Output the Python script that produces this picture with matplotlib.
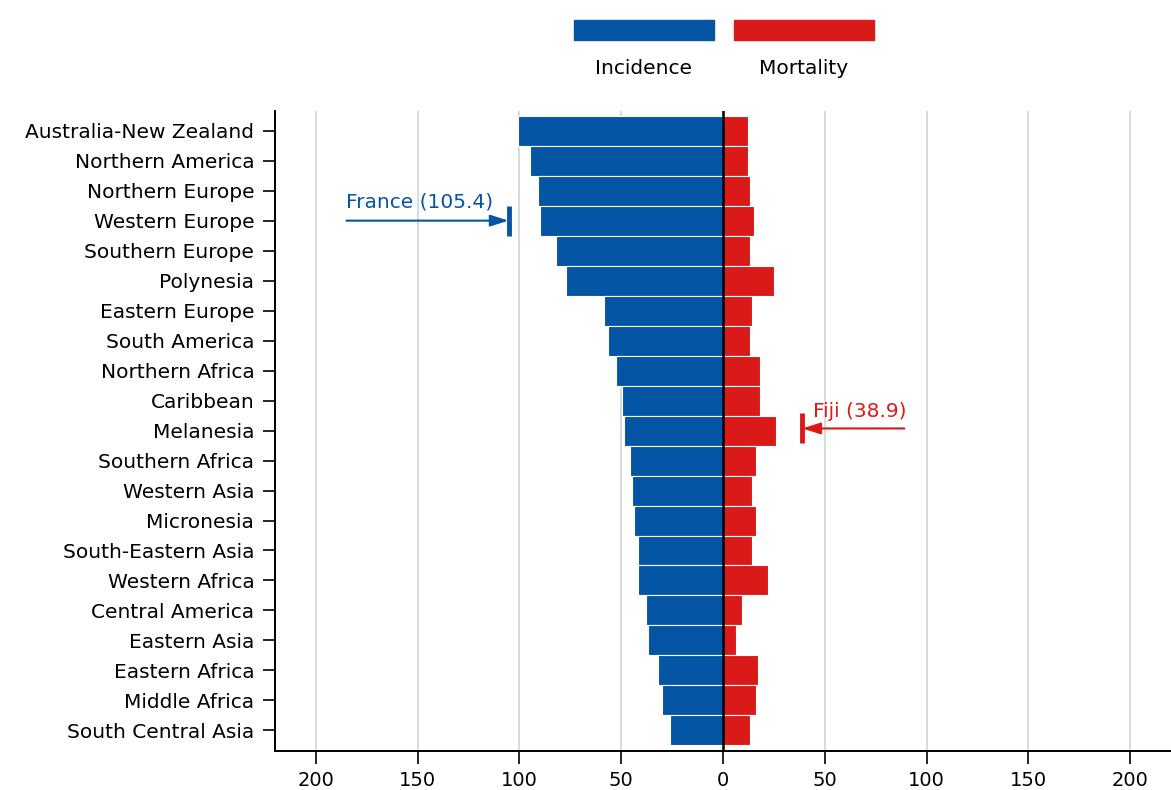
"""
Incidence vs mortality by world region, butterfly bar chart.
"""
import matplotlib.pyplot as plt
from matplotlib.patches import Rectangle
from matplotlib.ticker import FuncFormatter

plt.rcParams["font.family"] = ["DejaVu Sans"]

REGIONS = [
    "Australia-New Zealand", "Northern America", "Northern Europe",
    "Western Europe", "Southern Europe", "Polynesia", "Eastern Europe",
    "South America", "Northern Africa", "Caribbean", "Melanesia",
    "Southern Africa", "Western Asia", "Micronesia", "South-Eastern Asia",
    "Western Africa", "Central America", "Eastern Asia", "Eastern Africa",
    "Middle Africa", "South Central Asia",
]
INCIDENCE = [100.5, 94.6, 90.7, 89.7, 81.9, 77.0, 58.3, 56.4, 52.5, 49.5,
             48.5, 45.6, 44.6, 43.6, 41.7, 41.7, 37.7, 36.8, 31.9, 29.9, 26.0]
MORTALITY = [12.3, 12.3, 13.2, 15.2, 13.2, 25.0, 14.2, 13.2, 18.1, 18.1,
             26.0, 16.2, 14.2, 16.2, 14.2, 22.0, 9.3, 6.4, 17.2, 16.2, 13.2]

# country call-outs: (label, value, row)
FRANCE = ("France (105.4)", 105.4, "Western Europe")
FIJI = ("Fiji (38.9)", 38.9, "Melanesia")

BLUE = "#0455A4"
RED = "#DA1A19"
FS = 14.5

fig = plt.figure(figsize=(11.71, 7.9), dpi=100)
ax = fig.add_axes([0.235, 0.05, 0.765, 0.81])

y = list(range(len(REGIONS)))
ax.barh(y, [-v for v in INCIDENCE], height=1.0, color=BLUE,
        edgecolor="white", linewidth=0.8, zorder=2)
ax.barh(y, MORTALITY, height=1.0, color=RED,
        edgecolor="white", linewidth=0.8, zorder=2)
ax.axvline(0, color="black", linewidth=1.8, zorder=3)

ax.set_yticks(y)
ax.set_yticklabels(REGIONS, fontsize=FS)
ax.set_ylim(len(REGIONS) - 0.33, -0.67)
ax.set_xlim(-220, 220)
ax.set_xticks(range(-200, 201, 50))
ax.xaxis.set_major_formatter(FuncFormatter(lambda v, _: f"{abs(v):.0f}"))
ax.tick_params(axis="x", labelsize=14, length=9, width=1.2, pad=6)
ax.tick_params(axis="y", length=9, width=1.2, pad=6)
ax.grid(axis="x", color="#d3d3d3", linewidth=1.2, zorder=0)
ax.set_axisbelow(True)
for side in ("top", "right"):
    ax.spines[side].set_visible(False)
for side in ("left", "bottom"):
    ax.spines[side].set_linewidth(1.4)

ARROW = {"arrowstyle": "-|>,head_length=1.1,head_width=0.35",
         "lw": 1.5, "shrinkA": 0, "shrinkB": 0}

# France call-out (incidence side)
row = REGIONS.index(FRANCE[2])
ax.annotate("", xy=(-FRANCE[1], row), xytext=(-185, row),
            arrowprops={**ARROW, "color": BLUE}, zorder=4)
ax.plot([-FRANCE[1]], [row], marker="|", markersize=21, mew=3.5,
        color=BLUE, zorder=4)
ax.text(-185, row - 0.3, FRANCE[0], color=BLUE, fontsize=FS,
        ha="left", va="bottom")

# Fiji call-out (mortality side)
row = REGIONS.index(FIJI[2])
ax.annotate("", xy=(FIJI[1], row - 0.07), xytext=(89, row - 0.07),
            arrowprops={**ARROW, "color": RED}, zorder=4)
ax.plot([FIJI[1]], [row - 0.07], marker="|", markersize=21, mew=3.5,
        color=RED, zorder=4)
ax.text(44, row - 0.33, FIJI[0], color=RED, fontsize=FS,
        ha="left", va="bottom")

# legend: swatches with labels underneath
W, H = 1171, 790
for x0, color, label in [(574, BLUE, "Incidence"), (734, RED, "Mortality")]:
    fig.add_artist(Rectangle((x0 / W, 1 - 40 / H), 140 / W, 20 / H,
                             transform=fig.transFigure, color=color))
    fig.text((x0 + 70) / W, 1 - 68 / H, label, fontsize=FS,
             ha="center", va="center")

fig.savefig("out.png", dpi=100)
